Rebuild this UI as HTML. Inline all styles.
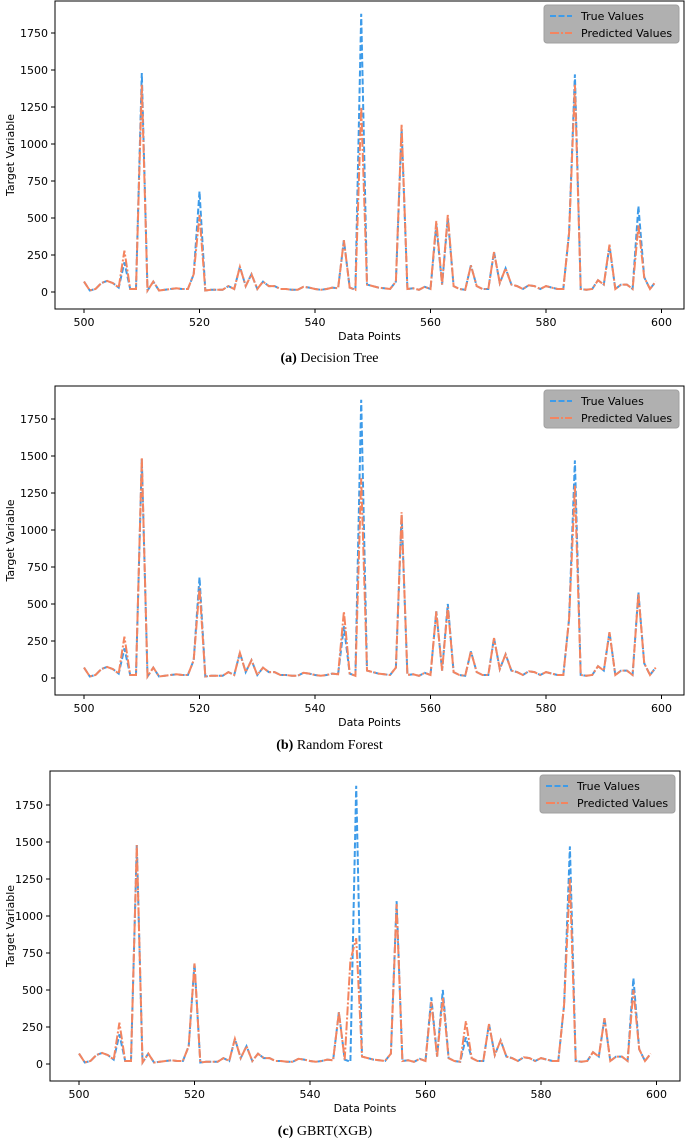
<!DOCTYPE html>
<html><head><meta charset="utf-8"><style>
body{margin:0;background:#fff;width:685px;height:1141px;overflow:hidden}
svg{position:absolute;left:0;top:0}
text{font-family:"DejaVu Sans","Liberation Sans",sans-serif}
.cap{font-family:"Liberation Serif",serif;font-size:14px}
</style></head><body>
<svg id="chart" width="685" height="1141"></svg>
<script>
const xs = Array.from({length:100},(_,i)=>500+i);
const trueVals = [70,10,20,60,75,60,30,200,20,20,1480,10,70,10,15,20,25,20,20,120,
680,10,15,15,15,40,20,170,40,120,20,70,40,40,20,20,15,15,35,30,
20,15,20,30,25,350,30,15,1880,50,40,30,25,20,70,1100,20,25,15,35,
20,450,50,500,40,20,15,180,40,20,20,270,60,160,50,40,20,45,40,20,
40,30,20,20,400,1470,20,15,20,80,50,310,20,50,50,20,580,100,20,70];
const predDT = trueVals.slice(); predDT[7]=280;predDT[10]=1400;predDT[20]=520;predDT[48]=1250;predDT[55]=1130;predDT[61]=480;predDT[63]=520;predDT[85]=1400;predDT[96]=450;predDT[91]=320;
const predRF = trueVals.slice(); predRF[7]=280;predRF[10]=1490;predRF[20]=610;predRF[45]=450;predRF[48]=1350;predRF[55]=1120;predRF[85]=1300;predRF[96]=570;predRF[63]=480;
const predGB = trueVals.slice(); predGB[7]=280;predGB[10]=1480;predGB[20]=680;predGB[47]=700;predGB[48]=850;predGB[55]=1080;predGB[61]=420;predGB[63]=450;predGB[67]=290;predGB[85]=1250;predGB[96]=500;
const yTicks = [0,250,500,750,1000,1250,1500,1750];
const xTicks = [500,520,540,560,580,600];
const panels = [
 {name:'decision-tree',L:55,T:1,R:684,B:309,x0:84,pred:predDT,cap:'(a)',capT:'Decision Tree',capY:362},
 {name:'random-forest',L:55,T:386,R:684,B:695,x0:84,pred:predRF,cap:'(b)',capT:'Random Forest',capY:749},
 {name:'gbrt-xgb',L:50,T:771,R:680,B:1081,x0:79,pred:predGB,cap:'(c)',capT:'GBRT(XGB)',capY:1135}
];
const svg=document.getElementById('chart');
const NS='http://www.w3.org/2000/svg';
function mk(tag,attrs,parent){const e=document.createElementNS(NS,tag);for(const k in attrs)e.setAttribute(k,attrs[k]);(parent||svg).appendChild(e);return e;}
panels.forEach(p=>{
 const g=mk('g',{});
 
 
 const xS=v=>p.x0+(v-500)*5.775;
 const zeroY=p.B-17, yS=v=>zeroY-v*0.148;
 const box=mk('rect',{x:p.L,y:p.T,width:p.R-p.L,height:p.B-p.T,fill:'none',stroke:'#000','stroke-width':1},g);
 
 
 yTicks.forEach(t=>{const y=yS(t);
  mk('line',{x1:p.L-4,x2:p.L,y1:y,y2:y,stroke:'#000'},g);
  const tx=mk('text',{x:p.L-7,y:y+4,'font-size':'11','text-anchor':'end'},g);tx.textContent=t;
  
  });
 xTicks.forEach(t=>{const x=xS(t);
  mk('line',{x1:x,x2:x,y1:p.B,y2:p.B+4,stroke:'#000'},g);
  const tx=mk('text',{x:x,y:p.B+17,'font-size':'11','text-anchor':'middle'},g);tx.textContent=t;
  
  });
 const xl=mk('text',{x:(p.L+p.R)/2,y:p.B+31,'font-size':'11','text-anchor':'middle'},g);xl.textContent='Data Points';
 
 
 const cy=(p.T+p.B)/2;
 const yl=mk('text',{x:14,y:cy,'font-size':'11','text-anchor':'middle',transform:`rotate(-90 14 ${cy})`},g);yl.textContent='Target Variable';
 
 
 const d1=xs.map((v,i)=>(i?'L':'M')+xS(v).toFixed(1)+','+yS(trueVals[i]).toFixed(1)).join('');
 const l1=mk('path',{d:d1,fill:'none',stroke:'#3d9be9','stroke-width':2,'stroke-dasharray':'6,2.5'},g);
 
 
 const d2=xs.map((v,i)=>(i?'L':'M')+xS(v).toFixed(1)+','+yS(p.pred[i]).toFixed(1)).join('');
 const l2=mk('path',{d:d2,fill:'none',stroke:'#f4845f','stroke-width':2,'stroke-dasharray':'9,2,2,2'},g);
 
 
 const lg=mk('g',{},g);
 
 
 const lx=p.R-140, ly=p.T+4;
 mk('rect',{x:lx,y:ly,width:135,height:38,rx:3,fill:'#b0b0b0',stroke:'#a0a0a0'},lg);
 mk('line',{x1:lx+6,x2:lx+28,y1:ly+11,y2:ly+11,stroke:'#3d9be9','stroke-width':2,'stroke-dasharray':'6,2.5'},lg);
 mk('line',{x1:lx+6,x2:lx+28,y1:ly+28,y2:ly+28,stroke:'#f4845f','stroke-width':2,'stroke-dasharray':'9,2,2,2'},lg);
 const t1=mk('text',{x:lx+37,y:ly+15,'font-size':'11'},lg);t1.textContent='True Values';
 
 
 const t2=mk('text',{x:lx+37,y:ly+32,'font-size':'11'},lg);t2.textContent='Predicted Values';
 
 
 const c=mk('text',{x:(p.L+p.R)/2-40,y:p.capY,class:'cap','text-anchor':'middle'},g);
 const b=mk('tspan',{'font-weight':'bold'},c);b.textContent=p.cap+' ';
 const n=mk('tspan',{},c);n.textContent=' '+p.capT;
 
 
});
</script>
</body></html>
